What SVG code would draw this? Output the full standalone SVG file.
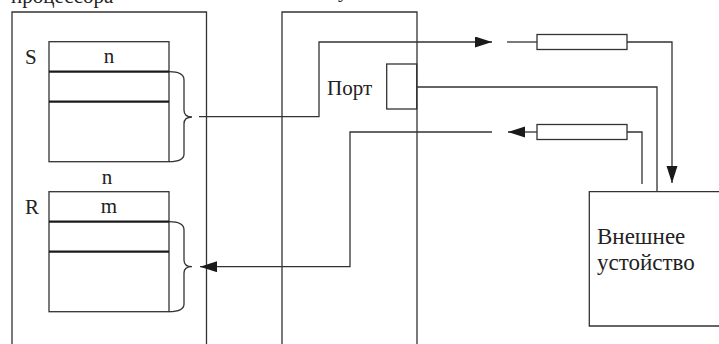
<svg xmlns="http://www.w3.org/2000/svg" width="719" height="344" viewBox="0 0 719 344">
<style>
.ln{fill:none;stroke:#333;stroke-width:1.3}
.th{fill:none;stroke:#1a1a1a;stroke-width:2.2}
text{font-family:'Liberation Serif','DejaVu Serif','Times New Roman',serif;font-size:21px;fill:#222}
.big{font-size:23px}
</style>
<defs>
<marker id="ah" markerUnits="userSpaceOnUse" markerWidth="18" markerHeight="12" refX="17" refY="5.5" orient="auto">
<path d="M0,0 L17,5.5 L0,11 Z" fill="#1a1a1a"/>
</marker>
</defs>
<rect width="719" height="344" fill="#fff"/>
<text x="11" y="3">процессора</text>
<text x="338" y="-3">устойства</text>
<g id="processor">
<path class="ln" d="M12,344 V12 H206.5 V344"/>
</g>
<g id="regS">
<rect class="ln" x="49" y="41.7" width="120" height="120"/>
<line class="th" x1="49" y1="71.7" x2="169" y2="71.7"/>
<line class="th" x1="49" y1="101.7" x2="169" y2="101.7"/>
<path class="ln" d="M169,71.7 Q184,71.7 184,80 V110 Q184,117 192,117 Q184,117 184,124 V154 Q184,161.7 169,161.7"/>
<text x="25" y="64">S</text>
<text x="109" y="63" text-anchor="middle">n</text>
</g>
<text x="107" y="184" text-anchor="middle">n</text>
<g id="regR">
<rect class="ln" x="49" y="191.7" width="120" height="120"/>
<line class="th" x1="49" y1="221.7" x2="169" y2="221.7"/>
<line class="th" x1="49" y1="251.7" x2="169" y2="251.7"/>
<path class="ln" d="M169,221.7 Q184,221.7 184,230 V260 Q184,266.7 192,266.7 Q184,266.7 184,273 V304 Q184,311.7 169,311.7"/>
<text x="25" y="214">R</text>
<text x="109" y="213" text-anchor="middle">m</text>
</g>
<g id="controller">
<path class="ln" d="M282,344 V12 H417 V344"/>
</g>
<g id="port">
<rect class="ln" x="386.7" y="64" width="30" height="45"/>
<text x="327" y="95">Порт</text>
</g>
<g id="res1">
<rect class="ln" x="537" y="34.5" width="90" height="15"/>
</g>
<g id="res2">
<rect class="ln" x="537" y="124.5" width="90" height="15"/>
</g>
<g id="device">
<path class="ln" d="M719,191.7 H589.3 V326 H719"/>
<text class="big" x="597" y="244">Внешнее</text>
<text class="big" x="597" y="270">устойство</text>
</g>
<g id="connectors">
<polyline class="ln" points="199,116.7 319,116.7 319,42 492,42" marker-end="url(#ah)"/>
<line class="ln" x1="507" y1="42" x2="537" y2="42"/>
<polyline class="ln" points="627,42 672,42 672,183" marker-end="url(#ah)"/>
<polyline class="ln" points="417,87 657,87 657,191.7"/>
<polyline class="ln" points="642,184 642,132 627,132"/>
<line class="ln" x1="537" y1="132" x2="508" y2="132" marker-end="url(#ah)"/>
<polyline class="ln" points="492,132 350,132 350,266.7 200,266.7" marker-end="url(#ah)"/>
</g>
</svg>
